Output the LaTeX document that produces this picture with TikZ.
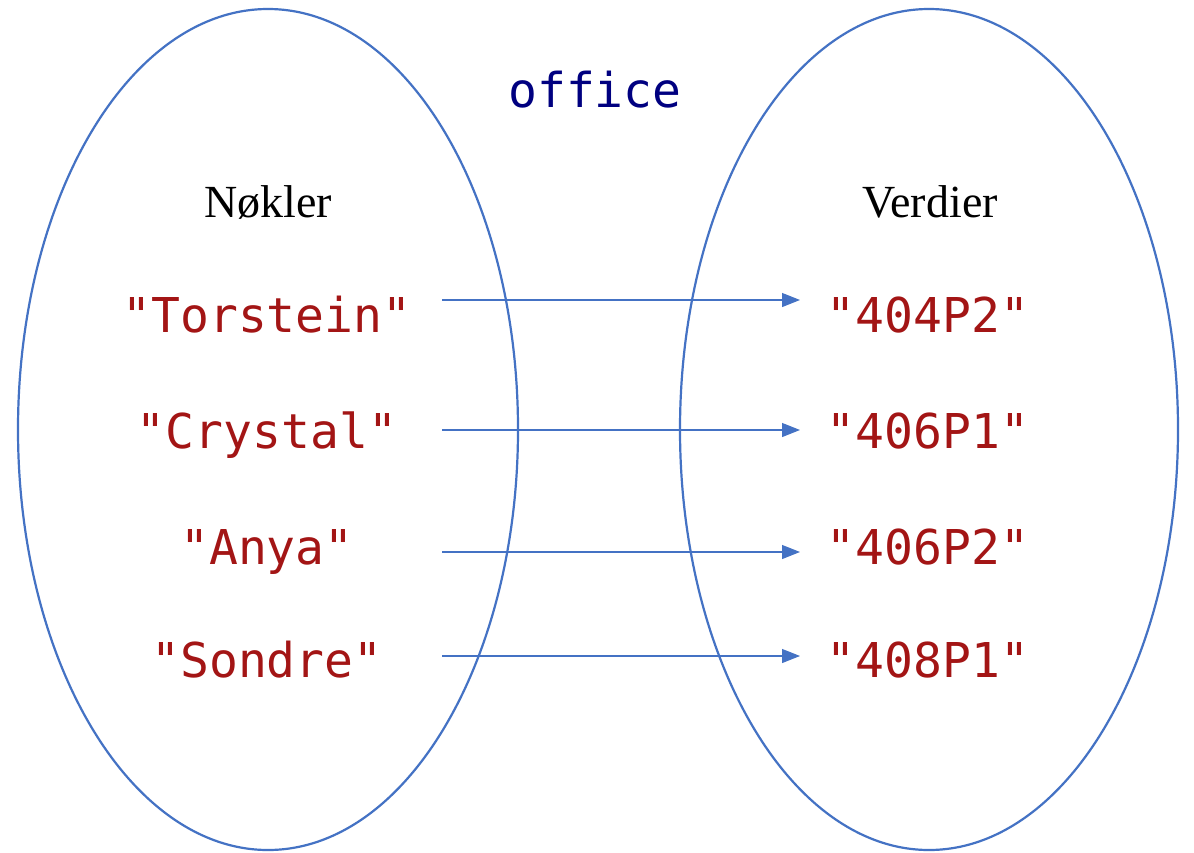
\documentclass[tikz,border=0pt]{standalone}
\usepackage{fontspec}
\setmainfont{Liberation Serif}
\newfontfamily\codefont{DejaVu Sans Mono}
\usetikzlibrary{arrows.meta}
\definecolor{strred}{HTML}{A31515}
\definecolor{navyc}{HTML}{000080}
\definecolor{lineblue}{HTML}{4472C4}
\tikzset{
  ell/.style={draw=lineblue, line width=2.2pt},
  keytxt/.style={anchor=base, text=strred, font=\codefont\fontsize{48}{57}\selectfont, inner sep=0pt},
  head/.style={anchor=base, text=black, font=\fontsize{46}{55}\selectfont, inner sep=0pt},
  conn/.style={draw=lineblue, line width=1.1pt, -{Triangle[length=18pt,width=14pt]}}
}
\begin{document}
\begin{tikzpicture}[x=1pt,y=-1pt]
\useasboundingbox (0,0) rectangle (1194,852);
\fill[white] (0,0) rectangle (1194,852);
\draw[ell] (268,429.5) ellipse [x radius=250, y radius=420.5];
\draw[ell] (929,429.5) ellipse [x radius=249, y radius=420.5];
\node[anchor=base, text=navyc, font=\codefont\fontsize{48}{57}\selectfont, inner sep=0pt] (title) at (595,107) {office};
\node[head] (keys) at (268,217) {Nøkler};
\node[head] (vals) at (930,217) {Verdier};
\node[keytxt] (k1) at (267,332) {"Torstein"};
\node[keytxt] (k2) at (267,448) {"Crystal"};
\node[keytxt] (k3) at (267,564) {"Anya"};
\node[keytxt] (k4) at (267,677) {"Sondre"};
\node[keytxt] (v1) at (928,332) {"404P2"};
\node[keytxt] (v2) at (928,448) {"406P1"};
\node[keytxt] (v3) at (928,564) {"406P2"};
\node[keytxt] (v4) at (928,677) {"408P1"};
\coordinate (a1) at (442,300); \coordinate (b1) at (800,300);
\coordinate (a2) at (442,430); \coordinate (b2) at (800,430);
\coordinate (a3) at (442,552); \coordinate (b3) at (800,552);
\coordinate (a4) at (442,656); \coordinate (b4) at (800,656);
\draw[conn] (a1) -- (b1);
\draw[conn] (a2) -- (b2);
\draw[conn] (a3) -- (b3);
\draw[conn] (a4) -- (b4);
\end{tikzpicture}
\end{document}
